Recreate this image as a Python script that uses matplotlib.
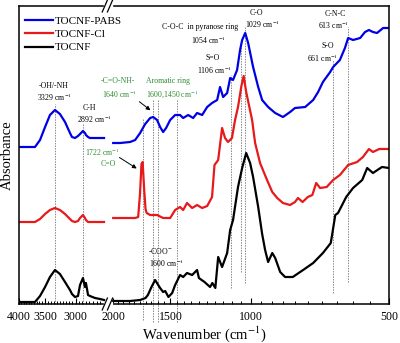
import numpy as np
import matplotlib
matplotlib.use("Agg")
import matplotlib.pyplot as plt
from matplotlib.ticker import FixedLocator, NullLocator

plt.rcParams['font.family'] = ['Liberation Serif', 'DejaVu Serif']
plt.rcParams['mathtext.fontset'] = 'stix'

# ---- data (absorbance in arbitrary offset units) ----
left_wn = [3980, 3682, 3590, 3500, 3415, 3330, 3248, 3166, 3088, 3057, 3011,
           2966, 2936, 2893, 2864, 2850, 2820, 2793, 2723, 2656, 2602]
pabs_left = [157, 157, 164, 177, 189, 194, 190, 182, 171, 167, 166,
             168, 170, 173, 171, 169, 167, 166, 166, 166, 166]
cl_left = [82, 82, 85, 90, 94, 96, 94, 90, 85, 83, 82,
           83, 86, 89, 86, 84, 82, 82, 82, 82, 82]
tocnf_left = [2, 2, 8, 17, 27, 34, 30, 22, 14, 10, 7,
              8, 19, 26, 17, 21, 9, 8, 6, 5, 4]

pabs_wn = [2000, 1931, 1837, 1791, 1747, 1703, 1661, 1636, 1604, 1580, 1556,
           1533, 1502, 1465, 1429, 1407, 1372, 1338, 1312, 1279, 1247, 1217,
           1186, 1169, 1151, 1128, 1111, 1095, 1073, 1057, 1046, 1030, 1015,
           990, 965, 946, 918, 886, 852, 822, 802, 762, 732, 714, 697, 672,
           662, 640, 624, 614, 599, 578, 564, 553, 542, 531, 515, 500]
pabs_abs = [161, 161, 162, 164, 171, 180, 186, 187, 184, 177, 172,
            176, 184, 189, 189, 186, 189, 186, 191, 189, 197, 201,
            204, 217, 207, 211, 226, 224, 234, 254, 264, 271, 261,
            237, 217, 204, 197, 191, 187, 192, 196, 197, 204, 212, 222, 232,
            237, 244, 256, 266, 264, 266, 272, 274, 272, 271, 276, 276]

cl_wn = [2000, 1837, 1791, 1764, 1748, 1735, 1725, 1712, 1700, 1690, 1661,
         1636, 1604, 1556, 1502, 1465, 1429, 1407, 1380, 1345, 1312, 1279,
         1247, 1217, 1202, 1180, 1157, 1140, 1123, 1101, 1084, 1068, 1050,
         1038, 1025, 1012, 995, 980, 956, 923, 899, 877, 852, 822, 802, 790,
         772, 752, 735, 721, 707, 684, 662, 640, 614, 587, 570, 553, 542,
         525, 500]
cl_abs = [86, 86, 86, 87, 110, 140, 142, 115, 95, 91, 89,
          89, 89, 86, 86, 94, 97, 94, 101, 96, 99, 96,
          98, 107, 139, 144, 176, 166, 162, 166, 184, 197, 218,
          228, 212, 200, 184, 161, 141, 124, 112, 106, 101, 99, 102, 106,
          102, 107, 109, 121, 116, 117, 124, 129, 139, 142, 147, 155, 152,
          155, 155]

tocnf_wn = [2000, 1837, 1747, 1700, 1680, 1650, 1620, 1595, 1580, 1556, 1540,
            1515, 1487, 1465, 1429, 1407, 1380, 1345, 1312, 1300, 1264, 1229,
            1215, 1197, 1180, 1157, 1128, 1111, 1095, 1068, 1046, 1025, 1005,
            990, 965, 946, 932, 918, 899, 886, 864, 843, 811, 770, 732, 697,
            670, 655, 646, 620, 599, 572, 558, 542, 518, 500]
tocnf_abs = [3, 3, 4, 6, 9, 17, 24, 19, 16, 12, 13,
             7, 11, 19, 29, 27, 31, 29, 34, 26, 22, 17,
             21, 16, 47, 37, 51, 74, 84, 117, 136, 151, 141,
             127, 97, 70, 54, 42, 51, 46, 32, 27, 27, 34, 41, 51,
             61, 89, 91, 107, 116, 124, 136, 131, 137, 136]

series_names = ['TOCNF-PABS', 'TOCNF-Cl', 'TOCNF']
series_colors = ['#0000e6', '#e61a1a', '#000000']

tick_major = [4000, 3500, 3000, 2000, 1500, 1000, 500]

# marker lines: wavenumber, bottom, top
mark_wn = [3329, 2892, 1722, 1640, 1600, 1450, 1106, 1054, 1029, 661, 613]
mark_lo = [0, 0, -16, -18, -18, -18, 16, 32, 21, 11, 22]
mark_hi = [200, 180, 186, 204, 204, 204, 229, 259, 277, 244, 277]

# ---- broken log wavenumber scale ----
G_LO, G_HI = 2000.0, 2600.0
GAP = 9 / 199
K = np.log(G_HI / G_LO) - GAP


def fwd(v):
    v = np.clip(np.asarray(v, dtype=float), 1.0, None)
    lv = np.log(v)
    mid = np.log(G_LO) + (v - G_LO) / (G_HI - G_LO) * GAP
    return np.where(v <= G_LO, lv, np.where(v >= G_HI, lv - K, mid))


def inv(u):
    u = np.asarray(u, dtype=float)
    a = np.log(G_LO)
    b = a + GAP
    lo = np.exp(np.clip(u, -50, 50))
    hi = np.exp(np.clip(u + K, -50, 50))
    mid = G_LO + (u - a) / GAP * (G_HI - G_LO)
    return np.where(u <= a, lo, np.where(u >= b, hi, mid))


fig = plt.figure(figsize=(4.0, 3.43), dpi=100)
ax = fig.add_axes([18.5 / 400, 39 / 343, 370.5 / 400, 298 / 343])
ax.set_xscale('function', functions=(fwd, inv))

lefts = [pabs_left, cl_left, tocnf_left]
rights = [(pabs_wn, pabs_abs), (cl_wn, cl_abs), (tocnf_wn, tocnf_abs)]
for name, col, yl, (wr, yr) in zip(series_names, series_colors, lefts, rights):
    ax.plot(left_wn, yl, color=col, lw=1.6, label=name)
    ax.plot(wr, yr, color=col, lw=1.6)

ax.vlines(mark_wn, mark_lo, mark_hi, colors='#888888', linestyles=(0, (1.5, 1.2)),
          lw=0.7, clip_on=False, zorder=0)

ax.set_xlim(4000, 500)
ax.set_ylim(0, 298)

ax.xaxis.set_major_locator(FixedLocator(tick_major))
ax.set_xticklabels([str(t) for t in tick_major])
minor = list(range(3950, 2600, -50)) + list(range(1950, 500, -50))
ax.xaxis.set_minor_locator(FixedLocator(minor))
ax.yaxis.set_major_locator(NullLocator())
ax.tick_params(axis='x', which='major', direction='in', length=4, width=0.8,
               labelsize=8.5, pad=5)
ax.tick_params(axis='x', which='minor', direction='in', length=2, width=0.7)
for s in ax.spines.values():
    s.set_linewidth(1.1)

ax.set_xlabel('Wavenumber (cm$^{-1}$)', fontsize=10.5, labelpad=1)
ax.set_ylabel('Absorbance', fontsize=10.5, labelpad=3)

# break marks on top and bottom spines
for yb in (0, 1):
    ax.add_patch(plt.Rectangle((0.231, yb - 0.008), 0.022, 0.016, transform=ax.transAxes,
                               color='white', clip_on=False, zorder=5))
    for x0 in (0.226, 0.240):
        ax.plot([x0, x0 + 0.014], [yb - 0.02, yb + 0.02], color='black', lw=0.9,
                transform=ax.transAxes, clip_on=False, zorder=6)

ax.legend(loc='upper left', bbox_to_anchor=(0.0175, 0.965), frameon=False,
          fontsize=8, handlelength=2.5, handletextpad=0.2, labelspacing=0.3,
          borderpad=0, borderaxespad=0)

# annotations
fs = 5.6
green = '#2e8b2e'
notes = [
    (3346, 218, '-OH/-NH', 'black'), (3346, 207, '3329 cm$^{-1}$', 'black'),
    (2807, 196, 'C-H', 'black'), (2737, 185, '2892 cm$^{-1}$', 'black'),
    (1951, 223, '-C=O-NH-', green), (1941, 210, '1640 cm$^{-1}$', green),
    (1517, 223, 'Aromatic ring', green), (1487, 210, '1600,1450 cm$^{-1}$', green),
    (1292, 277, 'C-O-C  in pyranose ring', 'black'), (1241, 264, '1054 cm$^{-1}$', 'black'),
    (1210, 246, 'S=O', 'black'), (1204, 234, '1106 cm$^{-1}$', 'black'),
    (975, 291, 'C-O', 'black'), (946, 280, '1029 cm$^{-1}$', 'black'),
    (656, 290, 'C-N-C', 'black'), (662, 279, '613 cm$^{-1}$', 'black'),
    (679, 258, 'S-O', 'black'), (697, 246, '661 cm$^{-1}$', 'black'),
    (2629, 152, '1722 cm$^{-1}$', green), (2333, 140, 'C=O', green),
    (1580, 53, '-COO$^{-}$', 'black'), (1533, 41, '1600 cm$^{-1}$', 'black'),
]
for x, y, t, c in notes:
    ax.text(x, y, t, fontsize=fs, color=c, ha='center', va='center')

arrow = dict(arrowstyle='-|>', color='black', lw=0.7, mutation_scale=6)
ax.annotate('', xy=(1640, 192), xytext=(1773, 204), arrowprops=arrow)
ax.annotate('', xy=(1756, 134), xytext=(1961, 148), arrowprops=arrow)

fig.savefig('out.png', dpi=100, facecolor='white')
